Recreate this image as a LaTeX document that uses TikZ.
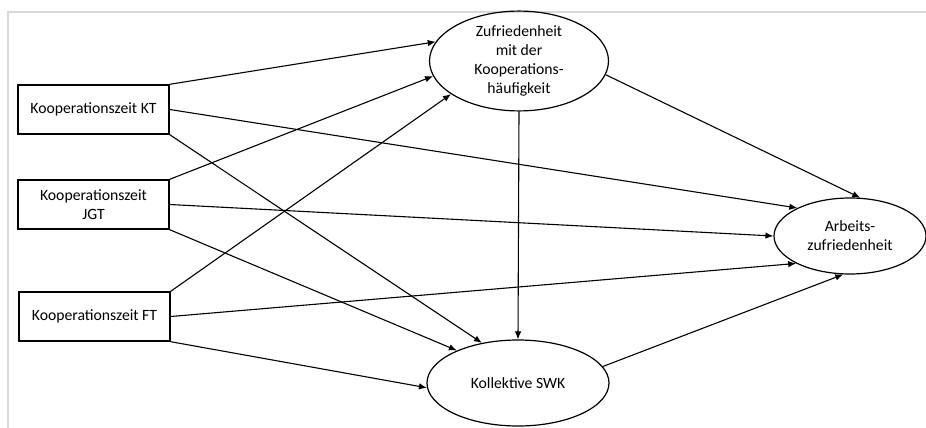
\documentclass[tikz,border=0pt]{standalone}
\usepackage{fontspec}
\setmainfont{Carlito}
\usetikzlibrary{shapes.geometric,arrows.meta}
\begin{document}
\begin{tikzpicture}[x=1pt,y=-1pt,
        font=\fontsize{15.7}{19}\selectfont,
        box/.style={draw,rectangle,line width=1.4pt,minimum width=151pt,minimum height=49pt,inner sep=0pt,align=center},
        latent/.style={draw,ellipse,line width=1.2pt,inner sep=0pt,align=center},
        effect/.style={-{Latex[length=8pt,width=6.5pt]},line width=1.1pt}]
        \useasboundingbox (0,0) rectangle (926,428);
        \draw[black!15,line width=2pt] (8,428) -- (8,12) -- (926,12);

        \node[box] (kt) at (93.5,109.5) {Kooperationszeit KT};
        \node[box] (jgt) at (93.5,204.5) {Kooperationszeit\\JGT};
        \node[box] (ft) at (94.5,316.5) {Kooperationszeit FT};

        \node[latent, minimum width=179pt, minimum height=88pt] (zuf) at (519,61)
            {Zufriedenheit\\mit der\\Kooperations-\\häufigkeit};
        \node[latent, minimum width=152pt, minimum height=76pt] (arb) at (850,236)
            {Arbeits-\\zufriedenheit};
        \node[latent, minimum width=182pt, minimum height=86pt] (swk) at (518,383)
            {Kollektive SWK};

        \draw[effect] (kt.north east) -- (zuf.167);
        \draw[effect] (jgt.north east) -- (zuf.190);
        \draw[effect] (ft.north east) -- (zuf.206);

        \draw[effect] (kt.east) -- (arb.152);
        \draw[effect] (jgt.east) -- (arb.180);
        \draw[effect] (ft.east) -- (arb.207);

        \draw[effect] (kt.south east) -- (swk.132);
        \draw[effect] (jgt.south east) -- (swk.152);
        \draw[effect] (ft.south east) -- (swk.183);

        \draw[effect] (zuf.south) -- (swk.north);
        \draw[effect] (zuf.351) -- (arb.75);
        \draw[effect] (swk.11) -- (arb.260);
    \end{tikzpicture}
\end{document}
